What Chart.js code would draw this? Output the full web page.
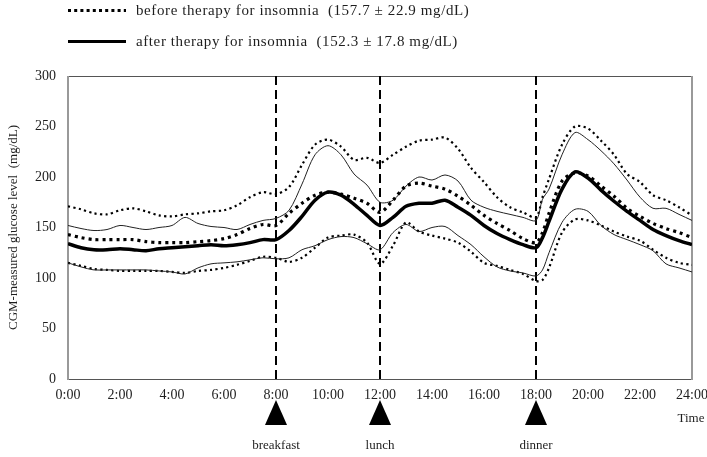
<!DOCTYPE html>
<html><head><meta charset="utf-8">
<script src="https://cdn.jsdelivr.net/npm/chart.js@4.4.1/dist/chart.umd.min.js"></script>
<style>html,body{margin:0;padding:0;background:#fff}#wrap{width:707px;height:457px}</style>
</head><body><div id="wrap"><canvas id="c" width="707" height="457"></canvas></div>
<script>
const times = [0,0.5,1,1.5,2,2.5,3,3.5,4,4.5,5,5.5,6,6.5,7,7.5,8,8.5,9,9.5,10,10.5,11,11.5,12,12.5,13,13.5,14,14.5,15,15.5,16,16.5,17,17.5,18,18.25,18.5,19,19.5,20,20.5,21,21.5,22,22.5,23,23.5,24];
const beforeUpper = [171,168,164,163,167,169,166,162,161,163,164,166,167,172,180,185,183,190,212,232,237,230,217,219,214,222,230,236,237,239,228,209,195,180,170,165,160,180,198,232,250,248,236,222,203,195,182,177,170,162];
const beforeMean  = [143,140,138,138,138,138,136,135,135,135,136,137,139,143,149,153,152,164,174,182,185,183,179,174,165,177,191,194,191,188,181,172,162,154,147,139,135,145,164,196,204,201,191,181,169,161,154,149,145,140];
const beforeLower = [115,112,109,108,107,107,107,107,106,105,107,108,110,113,117,121,120,116,120,130,140,142,143,135,114,132,155,146,142,139,135,126,115,112,108,104,97,98,110,145,158,157,152,146,141,137,128,120,115,113];
const afterUpper  = [152,149,147,148,152,150,148,150,152,160,154,151,150,148,153,157,159,167,193,222,231,222,203,192,175,177,191,200,197,202,196,177,170,166,163,160,157,178,188,222,244,237,226,213,197,180,169,169,163,157];
const afterMean   = [134,130,128,128,129,128,127,129,130,131,132,133,132,133,135,138,138,147,161,177,185,182,173,162,152,160,171,174,174,177,170,162,152,144,138,133,130,140,156,188,205,199,187,176,166,157,148,142,137,133];
const afterLower  = [115,111,108,108,108,108,108,107,106,104,110,114,115,116,118,120,119,120,128,132,138,141,140,134,128,145,153,146,150,151,142,133,121,111,107,105,102,108,125,155,168,166,152,143,138,133,127,114,110,106];
const mealHours = [8,12,18];
const mealLabels = ['breakfast','lunch','dinner'];
const legendLabels = ['before therapy for insomnia  (157.7 \u00b1 22.9 mg/dL)','after therapy for insomnia  (152.3 \u00b1 17.8 mg/dL)'];
const yTitle = 'CGM-measured glucose level  (mg/dL)';
const xTitle = 'Time';
const yMin = 0, yMax = 300, yStep = 50;
const xMin = 0, xMax = 24, xStep = 2;

const SERIF = '"Liberation Serif","DejaVu Serif",serif';
const TXT = '#1e1e1e';
const pts = arr => arr.map((v,i)=>({x:times[i],y:v}));

const datasets = [
  {label:'afterMean', data:pts(afterMean), borderColor:'#000', borderWidth:3.5, tension:0.3},
  {label:'beforeMean', data:pts(beforeMean), borderColor:'#000', borderWidth:3.2, borderDash:[3,4], tension:0.3},
  {label:'afterUpper', data:pts(afterUpper), borderColor:'#222', borderWidth:1, tension:0.3},
  {label:'afterLower', data:pts(afterLower), borderColor:'#222', borderWidth:1, tension:0.3},
  {label:'beforeUpper', data:pts(beforeUpper), borderColor:'#000', borderWidth:2.2, borderDash:[2.2,3.3], tension:0.3},
  {label:'beforeLower', data:pts(beforeLower), borderColor:'#000', borderWidth:2.2, borderDash:[2.2,3.3], tension:0.3}
];
mealHours.forEach(h=>{
  datasets.push({label:'meal'+h, data:[{x:h,y:yMin},{x:h,y:yMax}], borderColor:'#000', borderWidth:2, borderDash:[9,5], tension:0});
});
datasets.forEach(d=>{d.pointRadius=0; d.fill=false; d.borderCapStyle='butt';});

const extras = {
  id:'extras',
  beforeDatasetsDraw(chart){
    const {ctx, chartArea:a} = chart;
    ctx.save();
    ctx.setLineDash([]);
    ctx.strokeStyle='#555'; ctx.lineWidth=1;
    ctx.beginPath(); ctx.moveTo(a.left,a.top+0.5); ctx.lineTo(a.right,a.top+0.5); ctx.stroke();
    ctx.beginPath(); ctx.moveTo(a.left,a.bottom+0.5); ctx.lineTo(a.right,a.bottom+0.5); ctx.stroke();
    ctx.strokeStyle='#999'; ctx.lineWidth=2;
    ctx.beginPath(); ctx.moveTo(a.left,a.top); ctx.lineTo(a.left,a.bottom+1); ctx.stroke();
    ctx.beginPath(); ctx.moveTo(a.right,a.top); ctx.lineTo(a.right,a.bottom+1); ctx.stroke();
    ctx.restore();
  },
  afterDraw(chart){
    const {ctx, scales:{x}} = chart;
    ctx.save();
    // legend
    ctx.strokeStyle='#000';
    ctx.setLineDash([3,3.2]); ctx.lineWidth=3;
    ctx.beginPath(); ctx.moveTo(68,10.5); ctx.lineTo(126,10.5); ctx.stroke();
    ctx.setLineDash([]); ctx.lineWidth=3;
    ctx.beginPath(); ctx.moveTo(68,41.5); ctx.lineTo(126,41.5); ctx.stroke();
    ctx.fillStyle=TXT; ctx.font='15px '+SERIF; ctx.textBaseline='middle'; ctx.textAlign='left';
    ctx.letterSpacing='0.6px';
    ctx.fillText(legendLabels[0],136,11);
    ctx.fillText(legendLabels[1],136,42);
    ctx.letterSpacing='0px';
    // meal markers
    ctx.font='13px '+SERIF; ctx.textAlign='center';
    mealHours.forEach((h,i)=>{
      const px = x.getPixelForValue(h);
      ctx.beginPath(); ctx.moveTo(px,400); ctx.lineTo(px+11,425); ctx.lineTo(px-11,425); ctx.closePath();
      ctx.fillStyle='#000'; ctx.fill();
      ctx.fillStyle=TXT; ctx.fillText(mealLabels[i],px,446);
    });
    ctx.fillText(xTitle,x.getPixelForValue(xMax)-1,419);
    ctx.restore();
  }
};

new Chart(document.getElementById('c'),{
  type:'line',
  data:{datasets},
  options:{
    responsive:false, animation:false, devicePixelRatio:1,
    layout:{padding:{left:0,top:76,right:0,bottom:0}},
    plugins:{legend:{display:false},tooltip:{enabled:false}},
    scales:{
      x:{type:'linear',min:xMin,max:xMax,
        ticks:{stepSize:xStep,autoSkip:false,maxRotation:0,padding:8,color:TXT,font:{family:SERIF,size:14},callback:v=>v+':00'},
        grid:{display:false,drawTicks:false},border:{display:false},
        afterFit:s=>{s.height=78; s.paddingRight=15; s.paddingLeft=0;}},
      y:{min:yMin,max:yMax,
        ticks:{stepSize:yStep,padding:12,color:TXT,font:{family:SERIF,size:14}},
        grid:{display:false,drawTicks:false},border:{display:false},
        title:{display:true,text:yTitle,color:TXT,font:{family:SERIF,size:13},padding:{top:6,bottom:0}},
        afterFit:s=>{s.width=68; s.paddingTop=0; s.paddingBottom=0;}}
    }
  },
  plugins:[extras]
});
</script></body></html>
